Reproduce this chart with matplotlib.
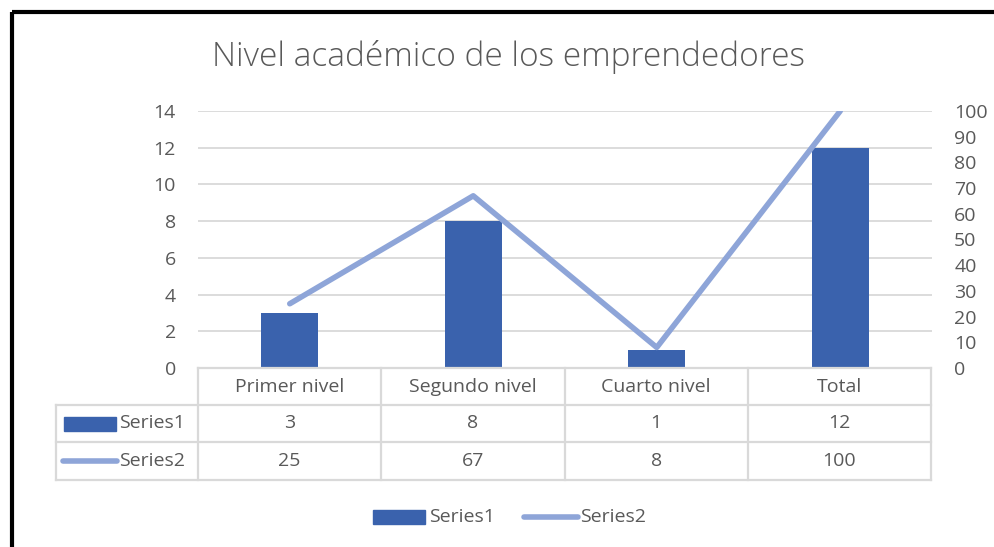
import matplotlib
matplotlib.use("Agg")
import matplotlib.pyplot as plt
from matplotlib.patches import Rectangle

categories = ["Primer nivel", "Segundo nivel", "Cuarto nivel", "Total"]
series1 = [3, 8, 1, 12]
series2 = [25, 67, 8, 100]
series_names = ["Series1", "Series2"]
title = "Nivel académico de los emprendedores"

W, H = 994, 547
bar_color = "#3A62AD"
line_color = "#8EA5D8"
text_color = "#595959"
grid_color = "#D9D9D9"

plt.rcParams["font.family"] = ["Open Sans", "DejaVu Sans"]

fig = plt.figure(figsize=(W / 100, H / 100), dpi=100)

# plot area in pixels
x0, x1 = 198, 932
y_top, y_bot = 111, 368
ax = fig.add_axes([x0 / W, 1 - y_bot / H, (x1 - x0) / W, (y_bot - y_top) / H])
xs = list(range(len(categories)))
ax.bar(xs, series1, width=0.31, color=bar_color, zorder=3)
ax.set_xlim(-0.5, len(categories) - 0.5)
ax.set_ylim(0, 14)
ax.set_yticks(range(0, 15, 2))
ax.yaxis.grid(True, color=grid_color, linewidth=1.3)
ax.set_axisbelow(True)
ax.set_xticks([])
for s in ax.spines.values():
    s.set_visible(False)
ax.tick_params(axis="y", length=0, pad=16, labelsize=14, labelcolor=text_color)

ax2 = ax.twinx()
ax2.plot(xs, series2, color=line_color, linewidth=4, solid_capstyle="round", zorder=4)
ax2.set_ylim(0, 100)
ax2.set_yticks(range(0, 101, 10))
for s in ax2.spines.values():
    s.set_visible(False)
ax2.tick_params(axis="y", length=0, pad=16, labelsize=14, labelcolor=text_color)

fig.text(508 / W, 1 - 57 / H, title, ha="center", va="center", fontsize=24,
         color=text_color, fontweight="light")

# overlay in pixel coordinates for the data table, legend and frame
ov = fig.add_axes([0, 0, 1, 1], zorder=5)
ov.set_xlim(0, W)
ov.set_ylim(H, 0)
ov.axis("off")
ov.patch.set_alpha(0)

col_w = (x1 - 1 - x0) / len(categories)
row_y = [368, 405, 442, 480]
left_x = 56
tbl_lw = 1.6
# horizontal lines
ov.plot([x0, x0 + col_w * len(categories)], [row_y[0]] * 2, color=grid_color, lw=tbl_lw)
for y in row_y[1:]:
    ov.plot([left_x, x0 + col_w * len(categories)], [y, y], color=grid_color, lw=tbl_lw)
# vertical lines
for i in range(len(categories) + 1):
    xv = x0 + i * col_w
    ov.plot([xv, xv], [row_y[0], row_y[3]], color=grid_color, lw=tbl_lw)
ov.plot([left_x, left_x], [row_y[1], row_y[3]], color=grid_color, lw=tbl_lw)

fs = 14
for i, cat in enumerate(categories):
    cx = x0 + (i + 0.5) * col_w
    ov.text(cx, (row_y[0] + row_y[1]) / 2, cat, ha="center", va="center", fontsize=fs, color=text_color)
    ov.text(cx, (row_y[1] + row_y[2]) / 2, str(series1[i]), ha="center", va="center", fontsize=fs, color=text_color)
    ov.text(cx, (row_y[2] + row_y[3]) / 2, str(series2[i]), ha="center", va="center", fontsize=fs, color=text_color)

# row headers with legend keys
r1 = (row_y[1] + row_y[2]) / 2
r2 = (row_y[2] + row_y[3]) / 2
ov.add_patch(Rectangle((64, r1 - 7), 52, 14, color=bar_color))
ov.text(119, r1, series_names[0], ha="left", va="center", fontsize=fs, color=text_color)
ov.plot([63, 117], [r2, r2], color=line_color, lw=4, solid_capstyle="round")
ov.text(119, r2, series_names[1], ha="left", va="center", fontsize=fs, color=text_color)

# bottom legend
ly = 517
ov.add_patch(Rectangle((373, ly - 7), 52, 14, color=bar_color))
ov.text(429, ly, series_names[0], ha="left", va="center", fontsize=fs, color=text_color)
ov.plot([524, 578], [ly, ly], color=line_color, lw=4, solid_capstyle="round")
ov.text(580, ly, series_names[1], ha="left", va="center", fontsize=fs, color=text_color)

# outer frame (cropped on right and bottom)
ov.add_patch(Rectangle((11.5, 11.5), 1200, 1200, fill=False, edgecolor="black", linewidth=3, clip_on=True))

fig.savefig("out.png", dpi=100, facecolor="white")
